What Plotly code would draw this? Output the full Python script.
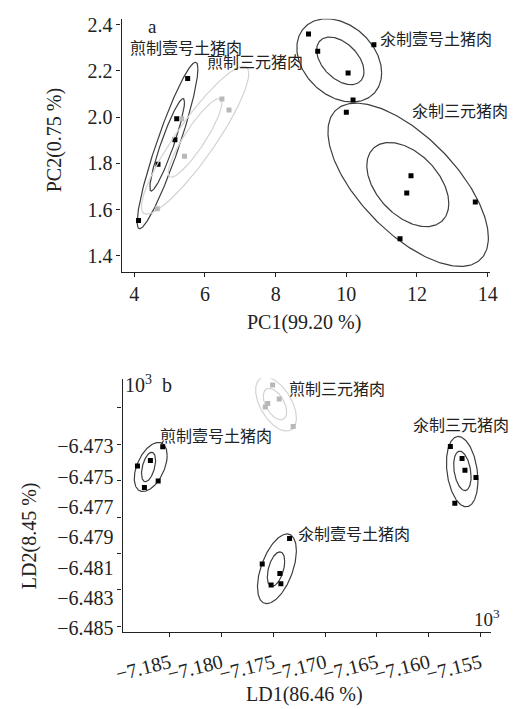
import numpy as np
import plotly.graph_objects as go

W, H = 514, 709

# ---------------- Panel a (PCA) data ----------------
groups_a = ["煎制壹号土猪肉", "煎制三元猪肉", "氽制壹号土猪肉", "氽制三元猪肉"]
pc1 = {
    "煎制壹号土猪肉": [4.12, 4.67, 5.15, 5.20, 5.51],
    "煎制三元猪肉": [4.65, 5.42, 5.34, 6.48, 6.68],
    "氽制壹号土猪肉": [8.93, 9.19, 10.05, 10.78, 10.19],
    "氽制三元猪肉": [10.00, 11.83, 11.71, 13.65, 11.52],
}
pc2 = {
    "煎制壹号土猪肉": [1.553, 1.796, 1.902, 1.993, 2.167],
    "煎制三元猪肉": [1.603, 1.830, 1.993, 2.078, 2.030],
    "氽制壹号土猪肉": [2.359, 2.284, 2.190, 2.313, 2.074],
    "氽制三元猪肉": [2.021, 1.746, 1.672, 1.633, 1.474],
}
# ellipse params per group: (cx, sx, cy, sy, r) outer then inner
ell_a = {
    "煎制壹号土猪肉": [(4.94, 0.86, 1.877, 0.36, 0.92), (4.93, 0.49, 1.88, 0.20, 0.92)],
    "煎制三元猪肉": [(5.72, 1.52, 1.90, 0.32, 0.90), (5.72, 0.76, 1.91, 0.17, 0.89)],
    "氽制壹号土猪肉": [(9.80, 1.20, 2.245, 0.18, -0.30), (9.83, 0.67, 2.243, 0.103, -0.45)],
    "氽制三元猪肉": [(11.75, 2.27, 1.707, 0.353, -0.65), (11.74, 1.16, 1.708, 0.182, -0.45)],
}
xa_ticks = [4, 6, 8, 10, 12, 14]
ya_ticks = [1.4, 1.6, 1.8, 2.0, 2.2, 2.4]

# ---------------- Panel b (LDA) data ----------------
ld1 = {
    "煎制壹号土猪肉": [-7.18569, -7.18688, -7.18813, -7.18613, -7.18746],
    "煎制三元猪肉": [-7.17508, -7.17444, -7.17555, -7.17578, -7.17309],
    "氽制壹号土猪肉": [-7.17344, -7.17608, -7.17438, -7.17428, -7.17522],
    "氽制三元猪肉": [-7.15791, -7.15678, -7.15650, -7.15544, -7.15748],
}
ld2 = {
    "煎制壹号土猪肉": [-6.47302, -6.47394, -6.47429, -6.47529, -6.47571],
    "煎制三元猪肉": [-6.46896, -6.46987, -6.47018, -6.47041, -6.47169],
    "氽制壹号土猪肉": [-6.47908, -6.48077, -6.48139, -6.48206, -6.48215],
    "氽制三元猪肉": [-6.47301, -6.47380, -6.47458, -6.47506, -6.47676],
}
ell_b = {
    "煎制壹号土猪肉": [(-7.18685, 0.00159, -6.47436, 0.00162, 0.47), (-7.18706, 0.00068, -6.47436, 0.00097, 0.45)],
    "煎制三元猪肉": [(-7.17475, 0.00197, -6.47021, 0.00178, -0.52), (-7.17485, 0.00113, -6.47021, 0.00104, -0.50)],
    "氽制壹号土猪肉": [(-7.17466, 0.00188, -6.48108, 0.00230, 0.52), (-7.17475, 0.00084, -6.48110, 0.00114, 0.45)],
    "氽制三元猪肉": [(-7.15677, 0.00152, -6.47467, 0.00232, -0.25), (-7.15675, 0.00084, -6.47462, 0.00130, -0.30)],
}
xb_ticks = [-7.185, -7.180, -7.175, -7.170, -7.165, -7.160, -7.155]
xb_labels = ["−7.185", "−7.180", "−7.175", "−7.170", "−7.165", "−7.160", "−7.155"]
yb_ticks = [-6.473, -6.475, -6.477, -6.479, -6.481, -6.483, -6.485]
yb_labels = ["−6.473", "−6.475", "−6.477", "−6.479", "−6.481", "−6.483", "−6.485"]
yb_marks = [-6.48487, -6.48247, -6.48007, -6.47767, -6.47527, -6.47287, -6.47047]

dark = {"煎制壹号土猪肉": True, "煎制三元猪肉": False, "氽制壹号土猪肉": True, "氽制三元猪肉": True}


def ellipse(cx, sx, cy, sy, r):
    t = np.linspace(0, 2 * np.pi, 240)
    s = np.sqrt(1 - r * r)
    return cx + sx * np.cos(t), cy + sy * (r * np.cos(t) + s * np.sin(t))


fig = go.Figure()
for panel, X, Y, E in [("a", pc1, pc2, ell_a), ("b", ld1, ld2, ell_b)]:
    xr, yr = ("x", "y") if panel == "a" else ("x2", "y2")
    for g in groups_a:
        lc = "#3e3e3e" if dark[g] else "#d3d3d3"
        mc = "#000000" if dark[g] else "#b8b8b8"
        for p in E[g]:
            ex, ey = ellipse(*p)
            fig.add_trace(go.Scatter(x=ex, y=ey, mode="lines", xaxis=xr, yaxis=yr,
                                     line=dict(color=lc, width=1.2), hoverinfo="skip"))
        fig.add_trace(go.Scatter(x=X[g], y=Y[g], mode="markers", xaxis=xr, yaxis=yr, name=g,
                                 marker=dict(symbol="square", size=5, color=mc)))

serif = "Liberation Serif, Times New Roman, serif"
cjk = "Noto Sans CJK SC"
axis_common = dict(showline=True, linecolor="#222", linewidth=1.2, ticks="outside", ticklen=4,
                   tickcolor="#222", showgrid=False, zeroline=False,
                   tickfont=dict(family=serif, size=20, color="#222"))

fig.update_layout(
    width=W, height=H, margin=dict(l=0, r=0, t=0, b=0),
    paper_bgcolor="white", plot_bgcolor="white", showlegend=False,
    xaxis=dict(domain=[117 / W, 497 / W], range=[3.64, 14.08], tickmode="array",
               tickvals=xa_ticks, ticktext=[str(v) for v in xa_ticks], anchor="y", **axis_common),
    yaxis=dict(domain=[1 - 271.7 / H, 1 - 14 / H], range=[1.3295, 2.425], tickmode="array",
               tickvals=ya_ticks, ticktext=[f"{v:.1f}" for v in ya_ticks], anchor="x", **axis_common),
    xaxis2=dict(domain=[118 / W, 498 / W], range=[-7.18957, -7.15394], tickmode="array",
                tickvals=xb_ticks, ticktext=xb_labels, tickangle=-14, ticklabelstandoff=7,
                anchor="y2", **axis_common),
    yaxis2=dict(domain=[1 - 637.5 / H, 1 - 380 / H], range=[-6.48523, -6.46853], tickmode="array",
                tickvals=yb_ticks, ticktext=yb_labels, anchor="x2",
                minor=dict(tickmode="array", tickvals=yb_marks, ticks="outside", ticklen=4,
                           tickcolor="#222"),
                **{**axis_common, "tickcolor": "rgba(0,0,0,0)"}),
)


def ann(text, px, py, size, family, xanchor="left", angle=0, color="#222"):
    fig.add_annotation(text=text, x=px / W, y=1 - py / H, xref="paper", yref="paper",
                       xanchor=xanchor, yanchor="middle", showarrow=False, textangle=angle,
                       borderpad=0, font=dict(family=family, size=size, color=color))


# panel labels and multipliers
ann("a", 143, 22, 19, serif)
ann("10<sup>3</sup>  b", 120, 386, 20, serif)
ann("10<sup>3</sup>", 479, 624, 19, serif)

# axis titles
ann("PC1(99.20 %)", 305, 323, 20, serif, xanchor="center")
ann("PC2(0.75 %)", 48, 138, 20, serif, xanchor="center", angle=-90)
ann("LD1(86.46 %)", 305, 701, 20, serif, xanchor="center")
ann("LD2(8.45 %)", 23, 540, 20, serif, xanchor="center", angle=-90)

# group labels
ann("煎制壹号土猪肉", 125, 43, 16, cjk)
ann("煎制三元猪肉", 204, 57, 16, cjk)
ann("氽制壹号土猪肉", 382, 34, 16, cjk)
ann("氽制三元猪肉", 415, 107, 16, cjk)
ann("煎制三元猪肉", 288, 390, 16, cjk)
ann("煎制壹号土猪肉", 156, 437, 16, cjk)
ann("氽制三元猪肉", 416, 426, 16, cjk)
ann("氽制壹号土猪肉", 298, 537, 16, cjk)

fig.write_html("out.html", config={"displayModeBar": False},
               post_script="document.body.style.margin='0';document.body.style.overflow='hidden';")
